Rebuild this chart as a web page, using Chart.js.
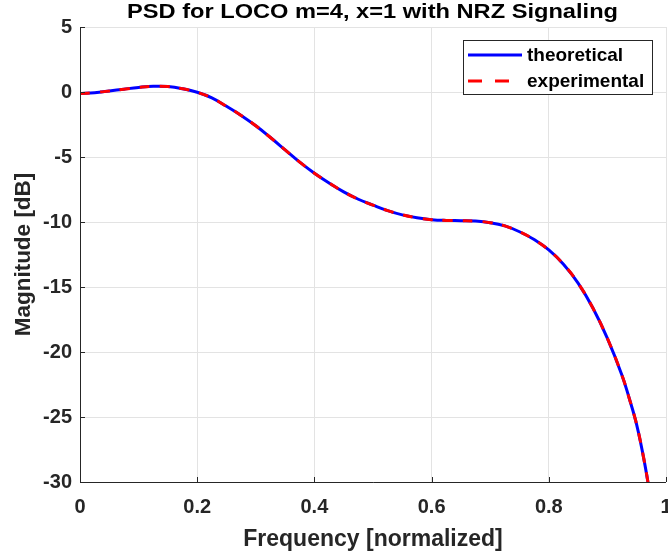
<!DOCTYPE html>
<html>
<head>
<meta charset="utf-8">
<script src="https://cdn.jsdelivr.net/npm/chart.js@4.4.1/dist/chart.umd.min.js"></script>
<style>
  html, body { margin: 0; padding: 0; background: #ffffff; }
  #wrap { width: 668px; height: 556px; }
</style>
</head>
<body>
<div id="wrap"><canvas id="c" width="668" height="556"></canvas></div>
<script>
const titleText = 'PSD for LOCO m=4, x=1 with NRZ Signaling';
const xTitle = 'Frequency [normalized]';
const yTitle = 'Magnitude [dB]';
const seriesLabels = ['theoretical', 'experimental'];

const frequency = [0.00, 0.025, 0.05, 0.075, 0.10, 0.125, 0.15, 0.175, 0.20, 0.225,
  0.25, 0.275, 0.30, 0.325, 0.35, 0.375, 0.40, 0.425, 0.45, 0.475,
  0.50, 0.525, 0.55, 0.575, 0.60, 0.625, 0.65, 0.675, 0.70, 0.725,
  0.75, 0.775, 0.80, 0.825, 0.85, 0.875, 0.90, 0.925, 0.9375, 0.95, 0.9625, 0.975];

const theoretical = [-0.12, -0.05, 0.08, 0.22, 0.35, 0.44, 0.42, 0.25, -0.02, -0.45,
  -1.1, -1.8, -2.6, -3.5, -4.45, -5.4, -6.25, -7.0, -7.68, -8.25,
  -8.7, -9.12, -9.45, -9.68, -9.82, -9.88, -9.9, -9.93, -10.05, -10.3,
  -10.75, -11.35, -12.15, -13.25, -14.7, -16.6, -18.95, -21.8, -23.6, -25.6, -28.3, -31.6];

const experimental = [-0.12, -0.05, 0.08, 0.22, 0.35, 0.44, 0.42, 0.25, -0.02, -0.45,
  -1.1, -1.8, -2.6, -3.5, -4.45, -5.4, -6.25, -7.0, -7.68, -8.25,
  -8.7, -9.12, -9.45, -9.68, -9.82, -9.88, -9.9, -9.93, -10.05, -10.3,
  -10.75, -11.35, -12.15, -13.25, -14.7, -16.6, -18.95, -21.8, -23.6, -25.6, -28.3, -31.6];

const xTicks = [0, 0.2, 0.4, 0.6, 0.8, 1];
const yTicks = [5, 0, -5, -10, -15, -20, -25, -30];

const FONT = '"Liberation Sans", Arial, Helvetica, sans-serif';
const TXT = '#262626';

const toPts = (xs, ys) => xs.map((x, i) => ({x: x, y: ys[i]}));

const titlePlugin = {
  id: 'stretchTitle',
  afterDraw(chart) {
    const ctx = chart.ctx;
    ctx.save();
    ctx.font = 'bold 20px ' + FONT;
    ctx.fillStyle = '#000000';
    ctx.textAlign = 'center';
    ctx.textBaseline = 'middle';
    const w = ctx.measureText(titleText).width;
    const sx = 491 / w;
    ctx.translate(372.5, 12);
    ctx.scale(sx, 1);
    ctx.fillText(titleText, 0, 0);
    ctx.restore();
  }
};

const axisPlugin = {
  id: 'matlabAxes',
  afterDatasetsDraw(chart) {
    const {ctx, chartArea: a, scales: {x, y}} = chart;
    ctx.save();
    ctx.strokeStyle = TXT;
    ctx.lineWidth = 1;
    ctx.beginPath();
    ctx.moveTo(a.left + 0.5, a.top);
    ctx.lineTo(a.left + 0.5, a.bottom + 0.5);
    ctx.lineTo(a.right, a.bottom + 0.5);
    xTicks.forEach(v => {
      const px = Math.round(x.getPixelForValue(v)) + 0.5;
      ctx.moveTo(px, a.bottom);
      ctx.lineTo(px, a.bottom - 5);
    });
    yTicks.forEach(v => {
      const py = Math.round(y.getPixelForValue(v)) + 0.5;
      ctx.moveTo(a.left, py);
      ctx.lineTo(a.left + 5, py);
    });
    ctx.stroke();
    ctx.restore();
  }
};

const legendPlugin = {
  id: 'boxLegend',
  afterDraw(chart) {
    const ctx = chart.ctx;
    const bx = 463, by = 40, bw = 189, bh = 54;
    ctx.save();
    ctx.fillStyle = '#ffffff';
    ctx.fillRect(bx, by, bw, bh);
    ctx.strokeStyle = TXT;
    ctx.lineWidth = 1;
    ctx.strokeRect(bx + 0.5, by + 0.5, bw, bh);
    const rows = [55, 81];
    [0, 1].forEach((idx, i) => {
      const ds = chart.data.datasets.find(d => d.label === seriesLabels[idx]);
      const yy = rows[i];
      ctx.strokeStyle = ds.borderColor;
      ctx.lineWidth = 3;
      ctx.setLineDash(idx === 1 ? [14, 13] : []);
      ctx.beginPath();
      ctx.moveTo(468, yy);
      ctx.lineTo(522, yy);
      ctx.stroke();
      ctx.setLineDash([]);
      ctx.fillStyle = '#000000';
      ctx.font = 'bold 19px ' + FONT;
      ctx.textBaseline = 'middle';
      ctx.textAlign = 'left';
      ctx.fillText(ds.label, 527, yy + 1);
    });
    ctx.restore();
  }
};

new Chart(document.getElementById('c'), {
  type: 'line',
  data: {
    datasets: [
      {
        label: seriesLabels[0],
        data: toPts(frequency, theoretical),
        borderColor: '#0000ff',
        borderWidth: 3,
        pointRadius: 0,
        tension: 0.4,
        fill: false,
        order: 2
      },
      {
        label: seriesLabels[1],
        data: toPts(frequency, experimental),
        borderColor: '#ff0000',
        borderWidth: 3,
        borderDash: [10, 10],
        pointRadius: 0,
        tension: 0.4,
        fill: false,
        order: 1
      }
    ]
  },
  options: {
    responsive: false,
    animation: false,
    devicePixelRatio: 1,
    layout: { padding: { left: 0, right: 2, top: 27, bottom: 0 } },
    plugins: {
      legend: { display: false },
      tooltip: { enabled: false },
      title: { display: false }
    },
    scales: {
      x: {
        type: 'linear',
        min: 0,
        max: 1,
        afterBuildTicks(scale) { scale.ticks = xTicks.map(v => ({value: v})); },
        afterFit(scale) { scale.height = 74; scale.paddingLeft = 0; scale.paddingRight = 0; },
        grid: { color: '#e3e3e3', lineWidth: 1, drawTicks: false },
        border: { display: false },
        ticks: {
          color: TXT,
          padding: 13,
          maxRotation: 0,
          autoSkip: false,
          font: { family: FONT, size: 20, weight: 'bold' },
          callback: v => String(v)
        },
        title: {
          display: true,
          text: xTitle,
          color: TXT,
          font: { family: FONT, size: 23, weight: 'bold', lineHeight: 1.2 },
          padding: { top: 0, bottom: 3 }
        }
      },
      y: {
        type: 'linear',
        min: -30,
        max: 5,
        afterBuildTicks(scale) { scale.ticks = yTicks.map(v => ({value: v})); },
        afterFit(scale) { scale.width = 80; scale.paddingTop = 0; scale.paddingBottom = 0; },
        grid: { color: '#e3e3e3', lineWidth: 1, drawTicks: false },
        border: { display: false },
        ticks: {
          color: TXT,
          padding: 8,
          autoSkip: false,
          font: { family: FONT, size: 20, weight: 'bold' },
          callback: v => String(v)
        },
        title: {
          display: true,
          text: yTitle,
          color: TXT,
          font: { family: FONT, size: 22.5, weight: 'bold', lineHeight: 1.2 },
          padding: { top: 10, bottom: 0 }
        }
      }
    }
  },
  plugins: [axisPlugin, legendPlugin, titlePlugin]
});
</script>
</body>
</html>
